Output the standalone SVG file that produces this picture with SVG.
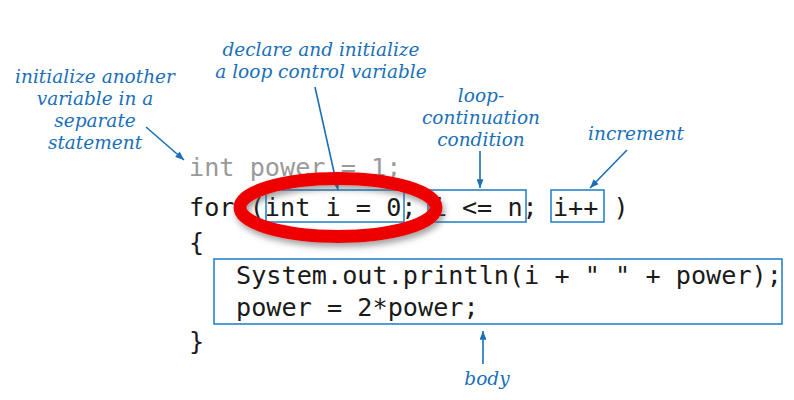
<svg xmlns="http://www.w3.org/2000/svg" width="794" height="400" viewBox="0 0 794 400">
  <defs>
    <style>
      .note { font-family: "DejaVu Serif", "Liberation Serif", serif; font-style: italic; font-size: 18.5px; fill: #1a6fb8; text-anchor: middle; }
      .code { font-family: "DejaVu Sans Mono", "Liberation Mono", monospace; font-size: 25.2px; fill: #1a1a1a; }
      .grey { fill: #9a9a9a; }
      .box { fill: none; stroke: #2a84c6; stroke-width: 1.6; }
      .arrow { fill: none; stroke: #1a6fb8; stroke-width: 1.6; marker-end: url(#head); }
      .ring { fill: none; stroke: #ee0000; stroke-width: 13; }
    </style>
    <marker id="head" viewBox="0 0 10 8" refX="10" refY="4" markerWidth="10" markerHeight="7" markerUnits="userSpaceOnUse" orient="auto">
      <path d="M0,0 L10,4 L0,8 Z" fill="#1a6fb8"/>
    </marker>
    <filter id="shadow" x="-20%" y="-30%" width="140%" height="170%">
      <feDropShadow dx="2" dy="4" stdDeviation="3" flood-color="#555555" flood-opacity="0.55"/>
    </filter>
  </defs>
  <rect width="794" height="400" fill="#ffffff"/>

  <g id="code">
    <text class="code grey" x="189" y="176" xml:space="preserve">int power = 1;</text>
    <text class="code" x="189" y="216" xml:space="preserve">for (int i = 0; i &lt;= n; i++ )</text>
    <text class="code" x="189" y="251">{</text>
    <text class="code" x="236" y="284" xml:space="preserve">System.out.println(i + " " + power);</text>
    <text class="code" x="236" y="316" xml:space="preserve">power = 2*power;</text>
    <text class="code" x="189" y="350">}</text>
  </g>

  <g id="init-box"><rect class="box" x="266" y="190" width="138" height="32"/></g>
  <g id="cond-box"><rect class="box" x="428" y="190" width="98" height="32"/></g>
  <g id="incr-box"><rect class="box" x="551" y="190" width="53" height="32"/></g>
  <g id="body-box"><rect class="box" x="214" y="259" width="568" height="65"/></g>

  <g id="note-separate">
    <text class="note" x="95" y="83">initialize another</text>
    <text class="note" x="95" y="105">variable in a</text>
    <text class="note" x="95" y="127">separate</text>
    <text class="note" x="95" y="149">statement</text>
  </g>
  <g id="note-declare">
    <text class="note" x="321" y="56">declare and initialize</text>
    <text class="note" x="321" y="78">a loop control variable</text>
  </g>
  <g id="note-condition">
    <text class="note" x="481" y="102">loop-</text>
    <text class="note" x="481" y="124">continuation</text>
    <text class="note" x="481" y="146">condition</text>
  </g>
  <g id="note-increment">
    <text class="note" x="636" y="140">increment</text>
  </g>
  <g id="note-body">
    <text class="note" x="487" y="385">body</text>
  </g>

  <g id="connectors">
    <line class="arrow" x1="146" y1="127" x2="184" y2="160"/>
    <line class="arrow" x1="315" y1="87" x2="338" y2="190"/>
    <line class="arrow" x1="480" y1="151" x2="480" y2="188"/>
    <line class="arrow" x1="627" y1="150" x2="590" y2="188"/>
    <line class="arrow" x1="483" y1="364" x2="483" y2="331"/>
  </g>

  <g id="highlight">
    <ellipse class="ring" cx="338" cy="207.5" rx="98" ry="29" filter="url(#shadow)"/>
  </g>
</svg>
